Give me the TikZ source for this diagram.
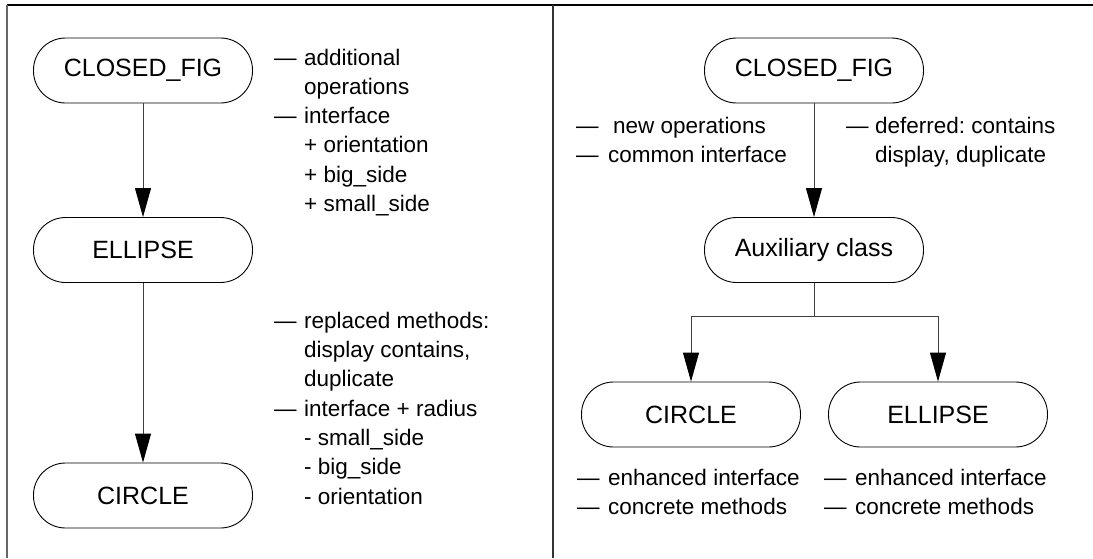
\documentclass[tikz,border=0pt]{standalone}
\usepackage{fontspec}
\setmainfont{Liberation Sans}
\usetikzlibrary{arrows.meta}
\frenchspacing
\tikzset{
  cls/.style={draw=black, line width=0.9pt, rounded corners=32pt,
    minimum width=219pt, minimum height=65pt, inner sep=0pt,
    font=\fontsize{25}{30}\selectfont},
  % multi-line notes are placed by the baseline of their last line
  note/.style={anchor=base west, inner sep=0pt, align=left,
    font=\fontsize{22.5}{29.3}\selectfont},
  conn/.style={draw=black!75, line width=0.9pt},
  inh/.style={conn, -{Triangle[length=29pt,width=16pt,fill=black,color=black]}},
  rule/.style={line width=1.4pt}
}
\newcommand\dd[1][30pt]{\makebox[#1][l]{—}}
\newcommand\ind[1][30pt]{\hspace*{#1}}
\begin{document}
\begin{tikzpicture}[x=1pt,y=-1pt]
\useasboundingbox (0,0) rectangle (1093,558);

% panel rules
\draw[rule] (1093,5) -- (7,5);
\draw[rule, black!60] (7,5) -- (7,558);
\draw[rule, black!80] (553,5) -- (553,558);

% left: direct inheritance chain
\node[cls] (lfig) at (143,70.5) {CLOSED\_FIG};
\node[cls] (lell) at (143,250) {ELLIPSE};
\node[cls] (lcir) at (143,495.5) {CIRCLE};
\draw[inh] (lfig) -- (lell);
\draw[inh] (lell) -- (lcir);

\node[note] (ln1) at (274,211.5) {\dd additional\\\ind operations\\\dd interface\\\ind + orientation\\\ind + big\_side\\\ind + small\_side};
\node[note] (ln2) at (274,504) {\dd replaced methods:\\\ind display contains,\\\ind duplicate\\\dd interface + radius\\\ind - small\_side\\\ind - big\_side\\\ind - orientation};

% right: auxiliary class with two heirs
\node[cls] (rfig) at (814,70.5) {CLOSED\_FIG};
\node[cls] (raux) at (814,250) {Auxiliary class};
\node[cls] (rcir) at (691,414.5) {CIRCLE};
\node[cls] (rell) at (938,414.5) {ELLIPSE};
\coordinate (split) at (814,316);
\draw[inh] (rfig) -- (raux);
\draw[conn] (raux) -- (split);
\draw[inh] (split) -| (rcir.north);
\draw[inh] (split) -| (rell.north);

\node[note] (rn1) at (576,162.5) {\dd[37pt]new operations\\\dd[32pt]common interface};
\node[note] (rn2) at (846,162.5) {\dd[29pt]deferred: contains\\\ind[29pt]display, duplicate};
\node[note] (rn3) at (577,514.5) {\dd[31pt]enhanced interface\\\dd[31pt]concrete methods};
\node[note] (rn4) at (824,514.5) {\dd[31pt]enhanced interface\\\dd[31pt]concrete methods};
\end{tikzpicture}
\end{document}
